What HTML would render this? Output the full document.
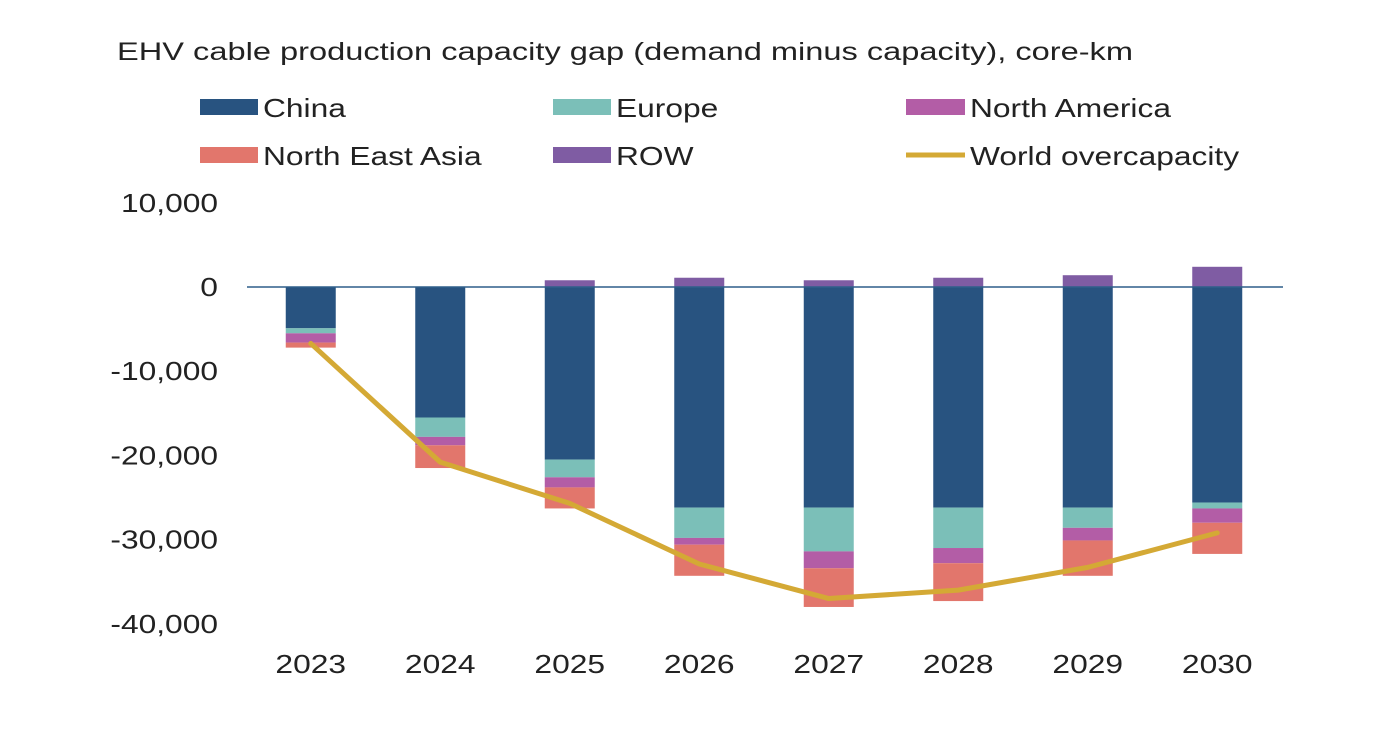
<!DOCTYPE html>
<html><head><meta charset="utf-8"><style>
html,body{margin:0;padding:0;background:#fff;}
svg text{font-family:"Liberation Sans",Arial,sans-serif;fill:#222;}
</style></head><body>
<svg id="chart" width="1380" height="725" viewBox="0 0 1380 725">
<text x="117" y="60" font-size="25" textLength="1016" lengthAdjust="spacingAndGlyphs">EHV cable production capacity gap (demand minus capacity), core-km</text>
<g>
<g><rect x="200" y="99" width="58" height="16" fill="#285380"/><text class="s" x="263" y="117" font-size="26">China</text></g>
<g><rect x="553" y="99" width="58" height="16" fill="#7bbfb8"/><text class="s" x="616" y="117" font-size="26">Europe</text></g>
<g><rect x="906" y="99" width="59" height="16" fill="#b35da6"/><text class="s" x="970" y="117" font-size="26">North America</text></g>
<g><rect x="200" y="147" width="58" height="16" fill="#e2766c"/><text class="s" x="263" y="165" font-size="26">North East Asia</text></g>
<g><rect x="553" y="147" width="58" height="16" fill="#7f5ca3"/><text class="s" x="616" y="165" font-size="26">ROW</text></g>
<g><line x1="906" y1="155" x2="965" y2="155" stroke="#d4a935" stroke-width="5"/><text class="s" x="970" y="165" font-size="26">World overcapacity</text></g>
</g>
<g id="yaxis"></g>
<g id="bars"></g>
<g id="xaxis"></g>
<g id="lines"></g>
</svg>
<script>
const categories=["2023","2024","2025","2026","2027","2028","2029","2030"];
const china=[-4900,-15500,-20500,-26200,-26200,-26200,-26200,-25600];
const europe=[-600,-2300,-2100,-3600,-5200,-4800,-2400,-700];
const northAmerica=[-1100,-1000,-1200,-800,-2000,-1800,-1500,-1700];
const northEastAsia=[-600,-2700,-2500,-3700,-4600,-4500,-4200,-3700];
const row=[0,0,800,1100,800,1100,1400,2400];
const world=[-6700,-20800,-25700,-32900,-37000,-36000,-33300,-29200];
const yTicks=[10000,0,-10000,-20000,-30000,-40000];
const yTickLabels=["10,000","0","-10,000","-20,000","-30,000","-40,000"];

const NS="http://www.w3.org/2000/svg";
const y=v=>287-v*0.00842;
const x0=247,x1=1283,bw=50;
const step=(x1-x0)/categories.length;
const xc=i=>x0+step*(i+0.5)-1;
function mk(tag,attrs,parent){const e=document.createElementNS(NS,tag);for(const k in attrs)e.setAttribute(k,attrs[k]);parent.appendChild(e);return e;}
const ya=document.getElementById('yaxis'),bars=document.getElementById('bars'),xa=document.getElementById('xaxis'),ln=document.getElementById('lines');
yTicks.forEach((t,i)=>{
  const el=mk('text',{x:218,y:y(t)+9,'text-anchor':'end','font-size':26,'class':'s'},ya);
  el.textContent=yTickLabels[i];
  
  
});
const series=[[china,'#285380','china'],[europe,'#7bbfb8','europe'],[northAmerica,'#b35da6','north-america'],[northEastAsia,'#e2766c','north-east-asia']];
categories.forEach((c,i)=>{
  let acc=0;
  series.forEach(([arr,col,nm])=>{
    const a=acc,b=acc+arr[i];acc=b;
    const r=mk('rect',{x:xc(i)-bw/2,y:y(a),width:bw,height:Math.max(0,y(b)-y(a)),fill:col},bars);
    
    
  });
  const r=mk('rect',{x:xc(i)-bw/2,y:y(row[i]),width:bw,height:Math.max(0,y(0)-y(row[i])),fill:'#7f5ca3'},bars);
  
  
  const t=mk('text',{x:xc(i),y:673,'text-anchor':'middle','font-size':26,'class':'s'},xa);
  t.textContent=c;
  
  
});
const zl=mk('line',{x1:x0,x2:x1,y1:y(0),y2:y(0),stroke:'#2f5f8a','stroke-width':1.5},xa);


const pts=world.map((v,i)=>xc(i)+','+y(v)).join(' ');
const pl=mk('polyline',{points:pts,fill:'none',stroke:'#d4a935','stroke-width':5,'stroke-linejoin':'round','stroke-linecap':'round'},ln);


document.querySelectorAll('text.s').forEach(t=>{
  const w=t.getComputedTextLength();
  if(w>0){t.setAttribute('textLength',(w*1.22).toFixed(1));t.setAttribute('lengthAdjust','spacingAndGlyphs');}
});
</script>
</body></html>
